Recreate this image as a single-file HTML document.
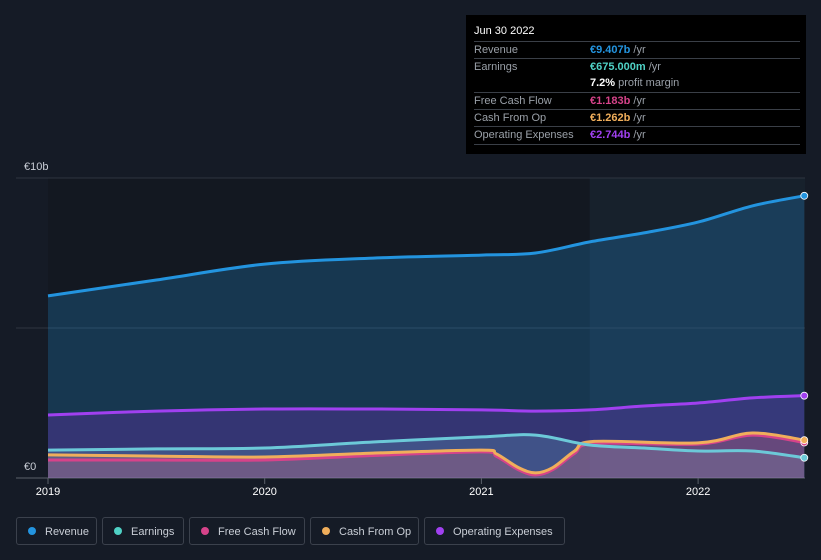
<!DOCTYPE html>
<html><head><meta charset="utf-8"><style>
body{margin:0;background:#151b26;font-family:"Liberation Sans",sans-serif;}
#wrap{position:relative;width:821px;height:560px;overflow:hidden;background:#151b26;}
.tt{position:absolute;left:466px;top:15px;width:340px;height:139px;background:#000;color:#fff;font-size:11px;}
.tt .h{position:absolute;left:8px;top:10px;font-size:11px;}
.row{position:absolute;left:8px;width:326px;border-top:1px solid #3a3f47;height:17px;line-height:17px;}
.row .k{position:absolute;left:0;color:#9aa0a8;}
.row .v{position:absolute;left:116px;font-weight:bold;}
.row .v span{color:#9aa0a8;font-weight:normal;}
.leg{position:absolute;top:517px;height:28px;border:1px solid #3b414c;border-radius:3px;color:#c9ced6;font-size:11px;line-height:28px;box-sizing:border-box;}
.leg i{display:inline-block;width:8px;height:8px;border-radius:50%;margin:0 9px 0 11px;}
</style></head><body><div id="wrap">
<svg id="svg" width="821" height="560" style="position:absolute;left:0;top:0"></svg>
<div class="tt">
<div class="h">Jun 30 2022</div>
<div class="row" style="top:26px"><span class="k">Revenue</span><span class="v" style="color:#2394df">€9.407b <span>/yr</span></span></div>
<div class="row" style="top:43px"><span class="k">Earnings</span><span class="v" style="color:#4fd1c5">€675.000m <span>/yr</span></span></div>
<div class="row" style="top:60px;border-top:none"><span class="v" style="color:#fff">7.2% <span>profit margin</span></span></div>
<div class="row" style="top:77px"><span class="k">Free Cash Flow</span><span class="v" style="color:#d6438a">€1.183b <span>/yr</span></span></div>
<div class="row" style="top:94px"><span class="k">Cash From Op</span><span class="v" style="color:#f0ae5b">€1.262b <span>/yr</span></span></div>
<div class="row" style="top:111px"><span class="k">Operating Expenses</span><span class="v" style="color:#a040f0">€2.744b <span>/yr</span></span></div>
<div class="row" style="top:129px;height:1px"></div>
</div>
<div class="leg" style="left:16px;width:81px"><i style="background:#2394df"></i>Revenue</div>
<div class="leg" style="left:102px;width:82px"><i style="background:#4fd1c5"></i>Earnings</div>
<div class="leg" style="left:189px;width:116px"><i style="background:#d6438a"></i>Free Cash Flow</div>
<div class="leg" style="left:310px;width:109px"><i style="background:#f0ae5b"></i>Cash From Op</div>
<div class="leg" style="left:424px;width:141px"><i style="background:#a040f0"></i>Operating Expenses</div>
</div>
<script>
const revT=[2019,2019.5,2020,2020.5,2021,2021.25,2021.5,2021.75,2022,2022.25,2022.49];
const revV=[6.07,6.6,7.13,7.33,7.43,7.5,7.87,8.17,8.53,9.07,9.407];
const opxT=[2019,2019.5,2020,2020.5,2021,2021.25,2021.5,2021.75,2022,2022.25,2022.49];
const opxV=[2.1,2.23,2.3,2.3,2.27,2.23,2.27,2.4,2.5,2.67,2.744];
const earT=[2019,2019.5,2020,2020.5,2021,2021.25,2021.5,2021.75,2022,2022.25,2022.49];
const earV=[0.93,0.97,1.0,1.2,1.37,1.43,1.1,1.0,0.9,0.9,0.675];
const cfoT=[2019,2019.5,2020,2020.5,2021,2021.07,2021.17,2021.25,2021.33,2021.43,2021.52,2022,2022.25,2022.49];
const cfoV=[0.77,0.73,0.7,0.83,0.93,0.8,0.35,0.17,0.35,0.9,1.22,1.17,1.5,1.262];
const fcfT=[2019,2019.5,2020,2020.5,2021,2021.07,2021.17,2021.25,2021.33,2021.43,2021.52,2022,2022.25,2022.49];
const fcfV=[0.6,0.6,0.6,0.75,0.87,0.72,0.28,0.1,0.28,0.82,1.15,1.13,1.43,1.183];
const xTicks=[2019,2020,2021,2022];
const yTicks=[0,5,10];
const yLabels=["€0","","€10b"];
const X=t=>48+(t-2019)*216.7, Y=v=>478-v*30;
const svg=document.getElementById('svg'),NS='http://www.w3.org/2000/svg';
function el(tag,a,name){const e=document.createElementNS(NS,tag);for(const k in a)e.setAttribute(k,a[k]);


svg.appendChild(e);return e;}
function path(T,V){const p=T.map((t,i)=>[X(t),Y(V[i])]);let d='M'+p[0][0]+','+p[0][1];
for(let i=0;i<p.length-1;i++){const a=p[Math.max(i-1,0)],b=p[i],c=p[i+1],e=p[Math.min(i+2,p.length-1)];
d+=` C${b[0]+(c[0]-a[0])/6},${b[1]+(c[1]-a[1])/6} ${c[0]-(e[0]-b[0])/6},${c[1]-(e[1]-b[1])/6} ${c[0]},${c[1]}`;}return d;}
el('rect',{x:48,y:178,width:X(2021.5)-48,height:300,fill:'#131821'},'past-region');
el('rect',{x:X(2021.5),y:178,width:805-X(2021.5),height:300,fill:'#17212c'},'forecast-region');
yTicks.forEach((v,i)=>{el('line',{x1:16,x2:805,y1:Y(v),y2:Y(v),stroke:i==0?'#5a606a':'#2e3540','stroke-width':1},'gridline');
if(yLabels[i]){const t=el('text',{x:24,y:Y(v)-8,fill:'#c9ced6','font-size':11},'y-tick-label');t.textContent=yLabels[i];}});
xTicks.forEach(t=>{el('line',{x1:X(t),x2:X(t),y1:478,y2:484,stroke:'#5a606a'},'x-tick');
const s=el('text',{x:X(t),y:495,fill:'#fff','font-size':11,'text-anchor':'middle'},'x-tick-label');s.textContent=t;});
const S=[[revT,revV,'#2394df','rgba(35,148,223,0.25)','revenue'],[opxT,opxV,'#a040f0','rgba(120,50,200,0.3)','operating-expenses'],
[earT,earV,'#6cc9d8','rgba(100,170,200,0.25)','earnings'],[cfoT,cfoV,'#f0ae5b','rgba(240,150,120,0.18)','cash-from-op'],[fcfT,fcfV,'#d6438a','rgba(214,67,138,0.12)','free-cash-flow']];
S.forEach(s=>{const d=path(s[0],s[1]);el('path',{d:d+` L${X(s[0][s[0].length-1])},478 L${X(s[0][0])},478 Z`,fill:s[3]},s[4]+'-area');});
S.slice().reverse().forEach(s=>{el('path',{d:path(s[0],s[1]),fill:'none',stroke:s[2],'stroke-width':3},s[4]+'-line');
const n=s[0].length-1;el('circle',{cx:X(s[0][n]),cy:Y(s[1][n]),r:3.5,fill:s[2],stroke:'#fff','stroke-width':0.8},s[4]+'-end-point');});
</script></body></html>
